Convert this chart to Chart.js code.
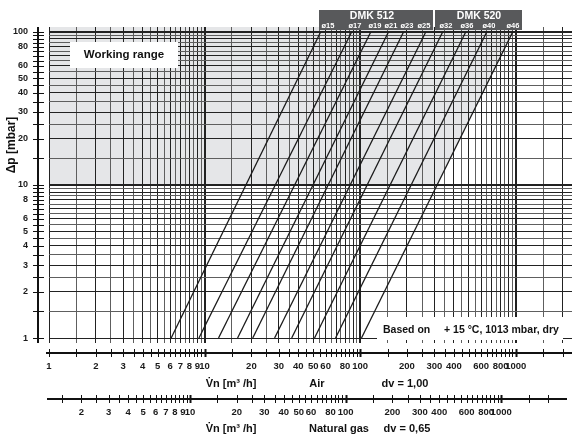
<!DOCTYPE html>
<html><head><meta charset="utf-8">
<script src="https://cdn.jsdelivr.net/npm/chart.js@4.4.1/dist/chart.umd.min.js"></script>
<style>html,body{margin:0;padding:0;background:#fff;}canvas{display:block;background:#fff;}</style>
</head><body>
<canvas id="c" width="584" height="438"></canvas>
<script>
// ---- data ----
const nozzleLabels = ['ø15','ø17','ø19','ø21','ø23','ø25','ø32','ø36','ø40','ø46'];
const groupLabels = ['DMK 512','DMK 520'];
const flowAtDp1   = [6.1, 9.2, 12.3, 16.3, 20.4, 28.2, 36.3, 50.9, 69.5, 102];
const flowAtDp100 = [55.7, 88.1, 117, 152, 190, 264, 339, 477, 651, 956];
const dpEnds = [1, 100];
const workFlow = [1, 312, 956];
const workDp   = [10, 10, 100];
const flowTicks = [1,1.5,2,2.5,3,3.5,4,4.5,5,5.5,6,6.5,7,7.5,8,8.5,9,9.5,10,15,20,25,30,35,40,45,50,55,60,65,70,75,80,85,90,95,100,150,200,250,300,350,400,450,500,550,600,650,700,750,800,850,900,950,1000,1500,2000];
const airLabels = [1,2,3,4,5,6,7,8,9,10,20,30,40,50,60,80,100,200,300,400,600,800,1000];
const gasTicks = [1.5,2,2.5,3,3.5,4,4.5,5,5.5,6,6.5,7,7.5,8,8.5,9,9.5,10,15,20,25,30,35,40,45,50,55,60,65,70,75,80,85,90,95,100,150,200,250,300,350,400,450,500,550,600,650,700,750,800,850,900,950,1000,1500,2000];
const gasLabels = [2,3,4,5,6,7,8,9,10,20,30,40,50,60,80,100,200,300,400,600,800,1000];
const dpTicks = [1,1.5,2,2.5,3,3.5,4,4.5,5,5.5,6,6.5,7,7.5,8,8.5,9,9.5,10,15,20,25,30,35,40,45,50,55,60,65,70,75,80,85,90,95,100];
const dpLabels = [1,2,3,4,5,6,8,10,20,30,40,50,60,80,100];
const flowMin = 1, flowMax = 2300;
const gasMin = 1.24, gasMax = 2852;
const dpMin = 0.928, dpMax = 107.8;

// ---- helpers ----
const FAM = '"Liberation Sans", Arial, Helvetica, sans-serif';
function isMajor(v){ if(!v) return false; const m = v/Math.pow(10, Math.floor(Math.log10(v)+1e-9)); return Math.abs(m-Math.round(m))<1e-6; }
function isDecade(v){ if(!v || v < 5) return false; const l=Math.log10(v); return Math.abs(l-Math.round(l))<1e-6; }
const gridColor = c => (c.tick && isMajor(c.tick.value)) ? '#222' : '#5e5e5e';
const gridWidth = c => (c.tick && isDecade(c.tick.value)) ? 2 : 1;

const datasets = [{
  data: workFlow.map((x,i)=>({x:x, y:workDp[i]})),
  fill: 'end', backgroundColor: '#e5e6e8', borderWidth: 0, pointRadius: 0
}];
nozzleLabels.forEach((n,i)=>{
  datasets.push({
    label: n,
    data: [{x:flowAtDp1[i], y:dpEnds[0]}, {x:flowAtDp100[i], y:dpEnds[1]}],
    borderColor: '#1a1a1a', borderWidth: 1.3, pointRadius: 0, fill: false
  });
});

const deco = {
  id: 'deco',
  afterDatasetsDraw(chart){
    const ctx = chart.ctx;
    ctx.save();
    ctx.fillStyle = '#fff';
    ctx.fillRect(70, 42, 108, 26);
    ctx.fillRect(377, 317, 186, 23);
    ctx.fillStyle = '#111';
    ctx.textBaseline = 'middle';
    ctx.textAlign = 'center';
    ctx.font = 'bold 11.5px ' + FAM;
    ctx.fillText('Working range', 124, 55);
    ctx.textAlign = 'left';
    ctx.font = 'bold 10.5px ' + FAM;
    ctx.fillText('Based on', 383, 330);
    ctx.fillText('+ 15 °C, 1013 mbar, dry', 444, 330);
    ctx.restore();
  },
  afterDraw(chart){
    const ctx = chart.ctx, a = chart.chartArea;
    const xs = chart.scales.x, gs = chart.scales.gas, ys = chart.scales.y;
    ctx.save();
    ctx.strokeStyle = '#111';
    // left dp axis
    const ax = a.left - 11;
    ctx.lineWidth = 2;
    ctx.beginPath(); ctx.moveTo(ax, a.top); ctx.lineTo(ax, a.bottom); ctx.stroke();
    ctx.lineWidth = 1;
    ctx.beginPath();
    dpTicks.forEach(v=>{ const p = Math.round(ys.getPixelForValue(v))+0.5; ctx.moveTo(ax-5, p); ctx.lineTo(ax+6, p); });
    ctx.stroke();
    // flow axes
    function hAxis(scale, ticks, y, x0, x1){
      ctx.lineWidth = 2;
      ctx.beginPath(); ctx.moveTo(x0, y); ctx.lineTo(x1, y); ctx.stroke();
      ticks.forEach(v=>{
        const p = Math.round(scale.getPixelForValue(v))+0.5;
        ctx.lineWidth = isDecade(v) ? 2 : 1;
        ctx.beginPath(); ctx.moveTo(p, y-4); ctx.lineTo(p, y+4); ctx.stroke();
      });
    }
    hAxis(xs, flowTicks, a.bottom + 10, a.left - 3, a.right);
    hAxis(gs, gasTicks, a.bottom + 56, a.left - 2, a.right - 5);
    // header boxes
    ctx.fillStyle = '#58595b';
    ctx.fillRect(319, 10, 114, 20);
    ctx.fillRect(435, 10, 87, 20);
    ctx.fillStyle = '#fff';
    ctx.textAlign = 'center'; ctx.textBaseline = 'middle';
    ctx.font = 'bold 10.5px ' + FAM;
    ctx.fillText(groupLabels[0], 372, 16);
    ctx.fillText(groupLabels[1], 479, 16);
    ctx.font = 'bold 7.5px ' + FAM;
    const lx = [328, 355, 375, 391, 407, 424, 446, 467, 489, 513];
    nozzleLabels.forEach((n,i)=> ctx.fillText(n, lx[i], 25.5));
    // titles
    ctx.fillStyle = '#111';
    ctx.font = 'bold 12px ' + FAM;
    ctx.save(); ctx.translate(12, 145); ctx.rotate(-Math.PI/2); ctx.fillText('Δp [mbar]', 0, 0); ctx.restore();
    ctx.font = 'bold 11px ' + FAM;
    ctx.fillText('V\u0307n [m³ /h]', 231, 384);
    ctx.fillText('Air', 317, 384);
    ctx.fillText('dv = 1,00', 405, 384);
    ctx.fillText('V\u0307n [m³ /h]', 231, 429);
    ctx.fillText('Natural gas', 339, 429);
    ctx.fillText('dv = 0,65', 407, 429);
    ctx.restore();
  }
};

const tickFont = {family: FAM, size: 9.5, weight: 'bold'};
new Chart(document.getElementById('c'), {
  type: 'line',
  data: { datasets: datasets },
  options: {
    responsive: false, animation: false,
    layout: { padding: { left: 0, top: 27, right: 12, bottom: 19 } },
    plugins: { legend: {display:false}, tooltip: {enabled:false}, filler: { drawTime: 'beforeDraw' } },
    elements: { line: { tension: 0 } },
    scales: {
      x: {
        type: 'logarithmic', position: 'bottom', min: flowMin, max: flowMax, weight: 0,
        afterBuildTicks: s => { s.ticks = flowTicks.map(v=>({value:v})); },
        afterFit: s => { s.height = 46; },
        grid: { color: gridColor, lineWidth: gridWidth, drawTicks: false },
        border: { display: false },
        ticks: { autoSkip: false, maxRotation: 0, padding: 18, color: '#1a1a1a', font: tickFont,
                 callback: v => airLabels.includes(v) ? String(v) : '' }
      },
      gas: {
        type: 'logarithmic', position: 'bottom', min: gasMin, max: gasMax, weight: 1,
        afterBuildTicks: s => { s.ticks = gasTicks.map(v=>({value:v})); },
        afterFit: s => { s.height = 30; },
        grid: { display: false, drawTicks: false },
        border: { display: false },
        ticks: { autoSkip: false, maxRotation: 0, padding: 18, color: '#1a1a1a', font: tickFont,
                 callback: v => gasLabels.includes(v) ? String(v) : '' }
      },
      y: {
        type: 'logarithmic', position: 'left', min: dpMin, max: dpMax,
        afterBuildTicks: s => { s.ticks = dpTicks.map(v=>({value:v})); },
        afterFit: s => { s.width = 49; },
        grid: { color: gridColor, lineWidth: gridWidth, drawTicks: false },
        border: { display: false },
        ticks: { autoSkip: false, padding: 21, color: '#1a1a1a', font: {family: FAM, size: 9, weight: 'bold'},
                 callback: v => dpLabels.includes(v) ? String(v) : '' }
      }
    }
  },
  plugins: [deco]
});
</script>
</body></html>
